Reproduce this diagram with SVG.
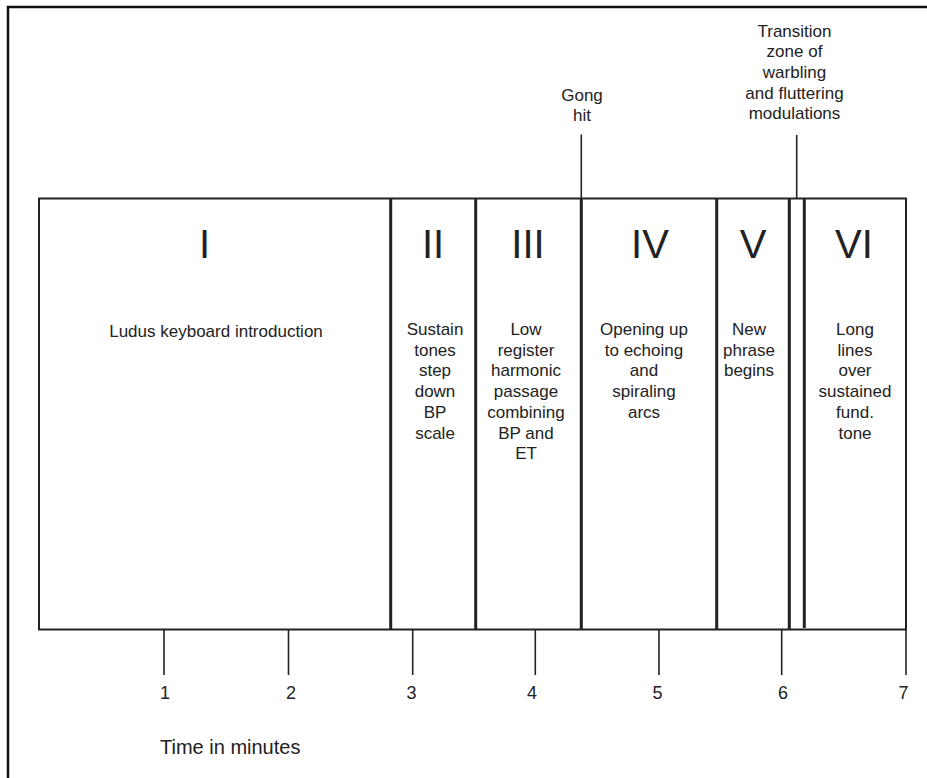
<svg xmlns="http://www.w3.org/2000/svg" width="927" height="778" viewBox="0 0 927 778">
<style>
.t{font-family:"Liberation Sans",Arial,sans-serif;font-size:17px;fill:#222;text-anchor:middle}
.num{font-family:"Liberation Sans",Arial,sans-serif;font-size:40px;fill:#222;text-anchor:middle}
.tick{font-family:"Liberation Sans",Arial,sans-serif;font-size:18px;fill:#222;text-anchor:middle}
.div{stroke:#222;stroke-width:3;fill:none}
.thin{stroke:#222;stroke-width:1.6;fill:none}
</style>
<rect width="927" height="778" fill="#fff"/>
<g id="frame">
<path d="M8 778 V7 H927" stroke="#111" stroke-width="2.5" fill="none"/>
</g>
<g id="timeline">
<rect x="39" y="198.5" width="867" height="431" fill="none" stroke="#222" stroke-width="2"/>
</g>
<g id="connectors">
<line class="div" x1="390.7" y1="199" x2="390.7" y2="630"/>
<line class="div" x1="475.7" y1="199" x2="475.7" y2="630"/>
<line class="thin" x1="581.3" y1="134.5" x2="581.3" y2="199"/>
<line class="div" x1="581.3" y1="199" x2="581.3" y2="630"/>
<line class="div" x1="716.7" y1="199" x2="716.7" y2="630"/>
<line class="div" x1="789.3" y1="199" x2="789.3" y2="630"/>
<line class="div" x1="804.3" y1="199" x2="804.3" y2="628"/>
<line class="thin" x1="796.7" y1="135" x2="796.7" y2="198"/>
<line class="thin" x1="164" y1="630" x2="164" y2="675"/>
<line class="thin" x1="288.5" y1="630" x2="288.5" y2="675"/>
<line class="thin" x1="412.7" y1="630" x2="412.7" y2="675"/>
<line class="thin" x1="535.3" y1="630" x2="535.3" y2="675"/>
<line class="thin" x1="659" y1="630" x2="659" y2="675"/>
<line class="thin" x1="781.7" y1="630" x2="781.7" y2="675"/>
<line class="thin" x1="906" y1="630" x2="906" y2="675"/>
</g>
<g id="section-I">
<text class="num" x="204.5" y="258">I</text>
<text class="t" x="216" y="336.5">Ludus keyboard introduction</text>
</g>
<g id="section-II">
<text class="num" x="433" y="258">II</text>
<text class="t" x="435"><tspan x="435" y="335">Sustain</tspan><tspan x="435" y="355.7">tones</tspan><tspan x="435" y="376.4">step</tspan><tspan x="435" y="397.1">down</tspan><tspan x="435" y="417.8">BP</tspan><tspan x="435" y="438.5">scale</tspan></text>
</g>
<g id="section-III">
<text class="num" x="528" y="258">III</text>
<text class="t" x="526"><tspan x="526" y="335">Low</tspan><tspan x="526" y="355.7">register</tspan><tspan x="526" y="376.4">harmonic</tspan><tspan x="526" y="397.1">passage</tspan><tspan x="526" y="417.8">combining</tspan><tspan x="526" y="438.5">BP and</tspan><tspan x="526" y="459.2">ET</tspan></text>
</g>
<g id="section-IV">
<text class="num" x="650" y="258">IV</text>
<text class="t" x="644"><tspan x="644" y="335">Opening up</tspan><tspan x="644" y="355.7">to echoing</tspan><tspan x="644" y="376.4">and</tspan><tspan x="644" y="397.1">spiraling</tspan><tspan x="644" y="417.8">arcs</tspan></text>
</g>
<g id="section-V">
<text class="num" x="753" y="258">V</text>
<text class="t" x="749"><tspan x="749" y="335">New</tspan><tspan x="749" y="355.7">phrase</tspan><tspan x="749" y="376.4">begins</tspan></text>
</g>
<g id="section-VI">
<text class="num" x="854" y="258">VI</text>
<text class="t" x="855"><tspan x="855" y="335">Long</tspan><tspan x="855" y="355.7">lines</tspan><tspan x="855" y="376.4">over</tspan><tspan x="855" y="397.1">sustained</tspan><tspan x="855" y="417.8">fund.</tspan><tspan x="855" y="438.5">tone</tspan></text>
</g>
<g id="gong-label">
<text class="t" x="582"><tspan x="582" y="100.5">Gong</tspan><tspan x="582" y="120.5">hit</tspan></text>
</g>
<g id="transition-label">
<text class="t" x="794.5"><tspan x="794.5" y="36.5">Transition</tspan><tspan x="794.5" y="57.2">zone of</tspan><tspan x="794.5" y="77.9">warbling</tspan><tspan x="794.5" y="98.6">and fluttering</tspan><tspan x="794.5" y="119.3">modulations</tspan></text>
</g>
<g id="axis-labels">
<text class="tick" x="165" y="699">1</text>
<text class="tick" x="291" y="699">2</text>
<text class="tick" x="411.5" y="699">3</text>
<text class="tick" x="532" y="699">4</text>
<text class="tick" x="657.5" y="699">5</text>
<text class="tick" x="783" y="699">6</text>
<text class="tick" x="903.5" y="699">7</text>
<text x="160" y="754" style="font-family:'Liberation Sans',Arial,sans-serif;font-size:20px;fill:#222">Time in minutes</text>
</g>
</svg>
